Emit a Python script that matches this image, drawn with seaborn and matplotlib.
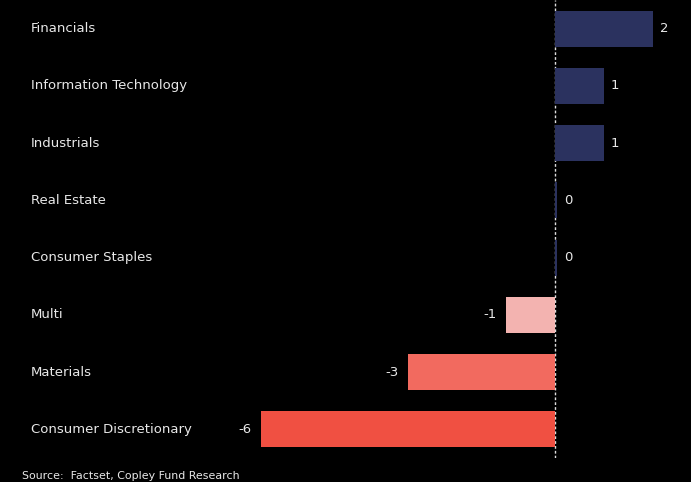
import numpy as np
import pandas as pd
import matplotlib.pyplot as plt
import seaborn as sns

sectors = ["Financials", "Information Technology", "Industrials", "Real Estate",
           "Consumer Staples", "Multi", "Materials", "Consumer Discretionary"]
values = [2.0, 1.0, 1.0, 0.04, 0.04, -1.0, -3.0, -6.0]
colors = ["#2b325f", "#2b325f", "#2b325f", "#2b325f", "#2b325f",
          "#f3b3b0", "#f26a5f", "#f05042"]

df = pd.DataFrame({"sector": sectors, "value": values})

sns.set_style("dark", {"axes.facecolor": "black", "figure.facecolor": "black"})
plt.rcParams["font.family"] = ["DejaVu Sans"]

fig = plt.figure(figsize=(6.91, 4.82), dpi=100)
ax = fig.add_axes([0, 24 / 482, 1, 458 / 482])
ax.set_facecolor("black")

sns.barplot(data=df, x="value", y="sector", hue="sector", palette=colors,
            orient="h", width=0.63, legend=False, ax=ax, saturation=1,
            linewidth=0, edgecolor="none", zorder=3)

txt = "#e8e8e8"
for c in ax.containers:
    v = c.datavalues[0]
    ax.bar_label(c, labels=["%.0f" % v], padding=5 if v >= 0 else 7,
                 color=txt, fontsize=9.5)

ax.axvline(-0.01, color="#dddddd", lw=1, ls=(0, (2, 1.5)), zorder=1)
ax.set_xlim(-555 / 49, 136 / 49)
ax.set_ylim(7.5, -0.5)

for i, s in enumerate(sectors):
    ax.text(31 / 691, i, s, transform=ax.get_yaxis_transform(), color=txt,
            fontsize=9.5, va="center", ha="left")

ax.set_xticks([])
ax.set_yticks([])
ax.set_xlabel("")
ax.set_ylabel("")
for sp in ax.spines.values():
    sp.set_visible(False)

fig.text(22 / 691, 1 - 476 / 482, "Source:  Factset, Copley Fund Research",
         color=txt, fontsize=7.9, va="center", ha="left")

fig.savefig("out.png", dpi=100, facecolor="black")
